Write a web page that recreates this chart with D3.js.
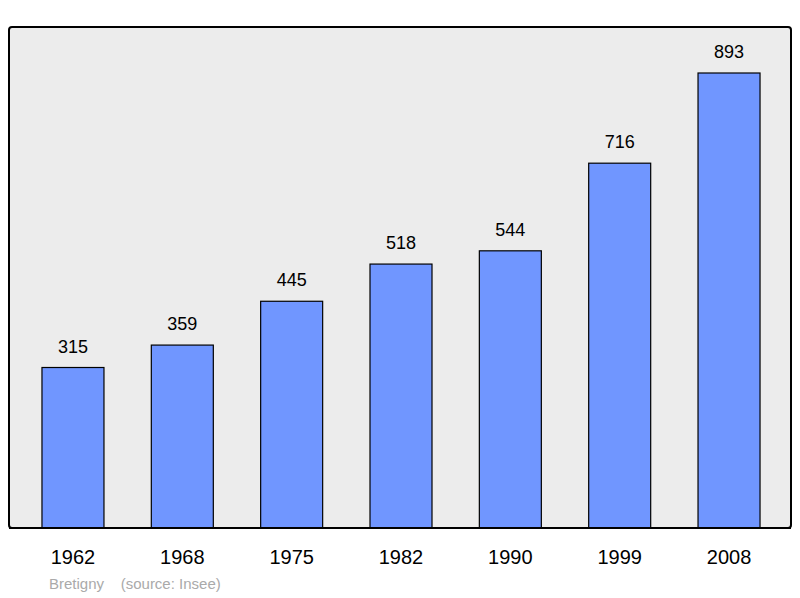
<!DOCTYPE html>
<html><head><meta charset="utf-8">
<script src="https://cdn.jsdelivr.net/npm/d3@7"></script>
<style>body{margin:0;background:#fff}</style>
</head><body><div id="chart"></div>
<script>
const years = ["1962", "1968", "1975", "1982", "1990", "1999", "2008"];
const population = [315, 359, 445, 518, 544, 716, 893];

const width = 800, height = 598;
const svg = d3.select("#chart").append("svg")
    .attr("width", width).attr("height", height)
    .style("font-family", "'Liberation Sans', Arial, sans-serif");

svg.append("rect")
    .attr("x", 9).attr("y", 27).attr("width", 782).attr("height", 501)
    .attr("rx", 3)
    .attr("fill", "#ececec").attr("stroke", "#000").attr("stroke-width", 2);

const x = d3.scaleBand().domain(years).range([18.3, 783.7]);
const y = d3.scaleLinear().domain([0, d3.max(population)]).range([528, 73]);
const bw = 62;

const g = svg.append("g");
g.selectAll("rect.bar").data(years).join("rect")
    .attr("class", "bar")
    .attr("x", d => x(d) + (x.bandwidth() - bw) / 2)
    .attr("y", (d, i) => y(population[i]))
    .attr("width", bw)
    .attr("height", (d, i) => y(0) - y(population[i]))
    .attr("fill", "#7096ff").attr("stroke", "#000").attr("stroke-width", 1.2);

g.selectAll("text.val").data(years).join("text")
    .attr("class", "val")
    .attr("x", d => x(d) + x.bandwidth() / 2)
    .attr("y", (d, i) => y(population[i]) - 15)
    .attr("text-anchor", "middle").attr("font-size", 18)
    .text((d, i) => population[i]);

g.selectAll("text.year").data(years).join("text")
    .attr("class", "year")
    .attr("x", d => x(d) + x.bandwidth() / 2)
    .attr("y", 564)
    .attr("text-anchor", "middle").attr("font-size", 20)
    .text(d => d);

// redraw the baseline over bar bottoms
svg.append("line").attr("x1", 9).attr("x2", 791).attr("y1", 528).attr("y2", 528)
    .attr("stroke", "#000").attr("stroke-width", 2);

svg.append("text")
    .attr("x", 49).attr("y", 589).attr("font-size", 15).attr("fill", "#aaa")
    .attr("xml:space", "preserve")
    .text("Bretigny    (source: Insee)");
</script></body></html>
